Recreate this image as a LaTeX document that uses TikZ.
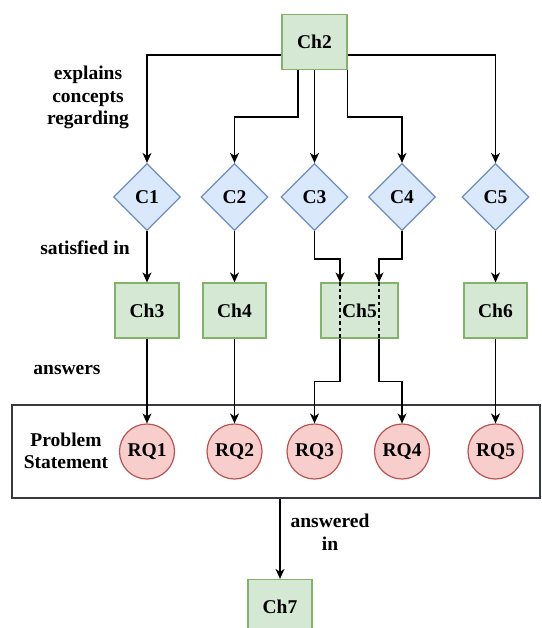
\documentclass[tikz,border=0pt]{standalone}
\usepackage{fontspec}
\setmainfont{Liberation Serif}
\usetikzlibrary{shapes.geometric,arrows.meta,calc}
\definecolor{chfill}{HTML}{D5E8D4}
\definecolor{chline}{HTML}{82B366}
\definecolor{cfill}{HTML}{DAE8FC}
\definecolor{cline}{HTML}{6C8EBF}
\definecolor{rqfill}{HTML}{F8CECC}
\definecolor{rqline}{HTML}{B85450}
\definecolor{frame}{HTML}{36393D}
\tikzset{
  every node/.style={font=\fontsize{19.5}{22.5}\selectfont\bfseries},
  chap/.style={draw=chline, fill=chfill, line width=1.2pt, minimum height=55pt, inner sep=0pt},
  concept/.style={diamond, draw=cline, fill=cfill, line width=1.2pt, minimum size=67pt, inner sep=0pt},
  rq/.style={circle, draw=rqline, fill=rqfill, line width=1.2pt, minimum size=55pt, inner sep=0pt},
  lbl/.style={align=center, inner sep=0pt},
  arr/.style={line width=1.4pt, -{Stealth[length=10pt,width=9pt,inset=3pt]}},
  link/.style={line width=1.4pt},
}
\begin{document}
\begin{tikzpicture}[x=1pt,y=-1pt]
\clip (0,0) rectangle (541,628);
\fill[white] (0,0) rectangle (541,628);

% problem statement frame
\node[draw=frame, line width=1.4pt, minimum width=528pt, minimum height=93pt, inner sep=0pt] (ps) at (276,451.5) {};
\node[lbl] (pslbl) at (66,451) {Problem\\Statement};

% chapters
\node[chap, minimum width=65pt] (ch2) at (314.5,42) {Ch2};
\node[chap, minimum width=64pt] (ch3) at (147,310.5) {Ch3};
\node[chap, minimum width=63pt] (ch4) at (234.5,310.5) {Ch4};
\node[chap, minimum width=77pt] (ch5) at (359.5,310.5) {Ch5};
\node[chap, minimum width=63pt] (ch6) at (495.5,310.5) {Ch6};
\node[chap, minimum width=64pt] (ch7) at (280,607) {Ch7};

% concepts
\node[concept] (c1) at (147,197) {C1};
\node[concept] (c2) at (234.5,197) {C2};
\node[concept] (c3) at (314.5,197) {C3};
\node[concept] (c4) at (402,197) {C4};
\node[concept] (c5) at (495.5,197) {C5};

% research questions
\node[rq] (rq1) at (147,451.5) {RQ1};
\node[rq] (rq2) at (234.5,451.5) {RQ2};
\node[rq] (rq3) at (314.5,451.5) {RQ3};
\node[rq] (rq4) at (402,451.5) {RQ4};
\node[rq] (rq5) at (495.5,451.5) {RQ5};

% edge labels
\node[lbl] (l1) at (88,97.5) {explains\\concepts\\regarding};
\node[lbl] (l2) at (85,248) {satisfied in};
\node[lbl] (l3) at (67,370) {answers};
\node[lbl] (l4) at (330,532) {answered\\in};

% Ch2 to concepts
\draw[arr] ($(ch2.west)+(0,13)$) -| (c1.north);
\draw[arr] ($(ch2.east)+(0,13)$) -| (c5.north);
\draw[arr] ($(ch2.south)+(-16.5,0)$) -- ++(0,47) -| (c2.north);
\draw[arr] (ch2.south) -- (c3.north);
\draw[arr] (ch2.south east) -- ++(0,47) -| (c4.north);

% concepts to chapters
\draw[arr] (c1.south) -- (ch3.north);
\draw[arr] (c2.south) -- (ch4.north);
\draw[arr] (c5.south) -- (ch6.north);
\coordinate (ch5a) at ($(ch5.north)+(-19.5,0)$);
\coordinate (ch5b) at ($(ch5.north)+(19.5,0)$);
\coordinate (ch5c) at ($(ch5.south)+(-19.5,0)$);
\coordinate (ch5d) at ($(ch5.south)+(19.5,0)$);
\draw[arr] (c3.south) -- ++(0,28) -| (ch5a);
\draw[arr] (c4.south) -- ++(0,28) -| (ch5b);
\draw[link, dash pattern=on 3.5pt off 3pt] (ch5a) -- (ch5c);
\draw[link, dash pattern=on 3.5pt off 3pt] (ch5b) -- (ch5d);

% chapters to research questions
\draw[arr] (ch3.south) -- (rq1.north);
\draw[arr] (ch4.south) -- (rq2.north);
\draw[arr] (ch6.south) -- (rq5.north);
\draw[arr] (ch5c) -- ++(0,43) -| (rq3.north);
\draw[arr] (ch5d) -- ++(0,43) -| (rq4.north);

% problem statement to Ch7
\draw[arr] (ch7.north |- ps.south) -- (ch7.north);
\end{tikzpicture}
\end{document}
